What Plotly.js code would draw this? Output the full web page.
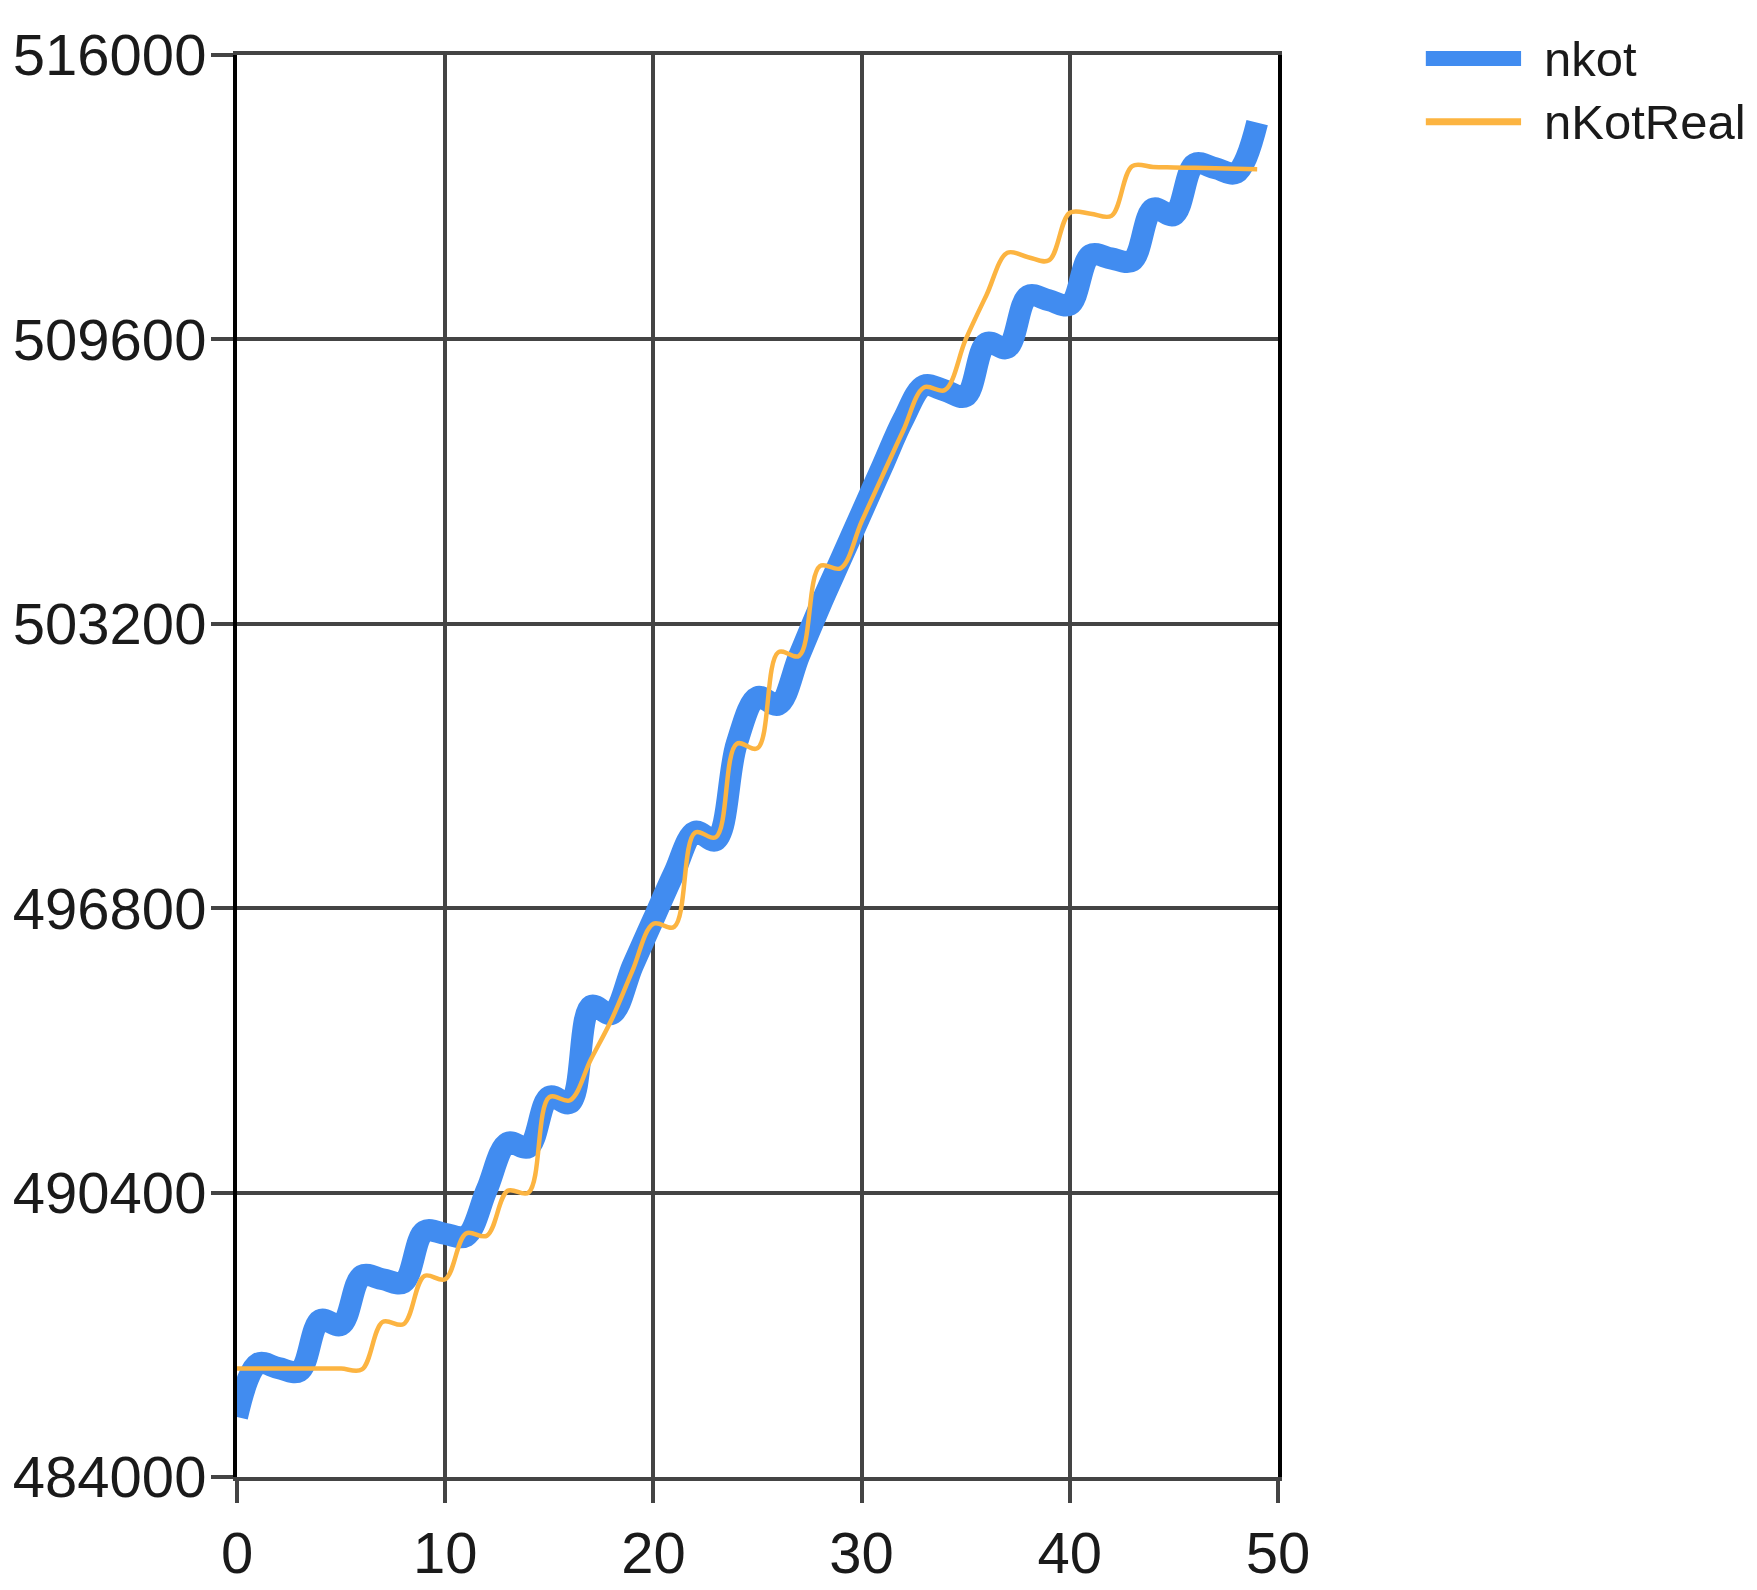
<!DOCTYPE html>
<html>
<head>
<meta charset="utf-8">
<script src="https://cdn.plot.ly/plotly-3.0.1.min.js"></script>
<style>
html, body { margin: 0; padding: 0; background: #ffffff; }
#chart { width: 1757px; height: 1590px; }
</style>
</head>
<body>
<div id="chart"></div>
<script>
// ---- data ----
const xValues = [0, 1, 2, 3, 4, 5, 6, 7, 8, 9,
                 10, 11, 12, 13, 14, 15, 16, 17, 18, 19,
                 20, 21, 22, 23, 24, 25, 26, 27, 28, 29,
                 30, 31, 32, 33, 34, 35, 36, 37, 38, 39,
                 40, 41, 42, 43, 44, 45, 46, 47, 48, 49];

const nkot = [485350, 486550, 486450, 486380, 487530, 487420, 488530, 488450, 488380, 489530,
              489470, 489420, 490470, 491520, 491420, 492560, 492420, 494600, 494420, 495500,
              496550, 497600, 498520, 498330, 500500, 501550, 501380, 502480, 503600, 504650,
              505700, 506750, 507800, 508560, 508450, 508320, 509520, 509410, 510580, 510480,
              510380, 511500, 511420, 511370, 512540, 512400, 513550, 513450, 513350, 514480];

const nKotReal = [486440, 486440, 486440, 486440, 486440, 486440, 486420, 487490, 487440, 488525,
                  488450, 489480, 489430, 490440, 490400, 492550, 492480, 493400, 494300, 495400,
                  496450, 496380, 498500, 498400, 500500, 500400, 502560, 502480, 504500, 504450,
                  505500, 506530, 507550, 508520, 508460, 509600, 510600, 511550, 511450, 511380,
                  512450, 512430, 512380, 513500, 513480, 513470, 513460, 513450, 513440, 513430];

const seriesNames = ['nkot', 'nKotReal'];
const seriesColors = ['#418CF0', '#FCB441'];
const seriesWidths = [22, 4.5];
const legendWidths = [15, 7];

const xTicks = [0, 10, 20, 30, 40, 50];
const yTicks = [484000, 490400, 496800, 503200, 509600, 516000];

// ---- chart ----
const seriesValues = [nkot, nKotReal];
const traces = seriesValues.map((vals, i) => ({
  type: 'scatter',
  mode: 'lines',
  name: seriesNames[i],
  x: xValues,
  y: vals,
  line: { color: seriesColors[i], width: seriesWidths[i], shape: 'spline', smoothing: 1 },
  hoverinfo: 'x+y+name'
}));

const font = 'Liberation Sans, Arial, sans-serif';
const gridCol = '#444444';

// manual legend (long line samples as in the original)
const legendRowsY = [0.9975, 0.953];
const shapes = seriesNames.map((n, i) => ({
  type: 'line', xref: 'paper', yref: 'paper',
  x0: 1.142, x1: 1.2335, y0: legendRowsY[i], y1: legendRowsY[i],
  line: { color: seriesColors[i], width: legendWidths[i] }
}));
const annotations = seriesNames.map((n, i) => ({
  xref: 'paper', yref: 'paper', x: 1.254, y: legendRowsY[i],
  xanchor: 'left', yanchor: 'middle', showarrow: false,
  text: n, font: { family: font, size: 49, color: '#1a1a1a' }
}));

const layout = {
  width: 1757,
  height: 1590,
  margin: { l: 237, r: 479, t: 55, b: 113, pad: 0 },
  paper_bgcolor: '#ffffff',
  plot_bgcolor: '#ffffff',
  showlegend: false,
  font: { family: font, color: '#1a1a1a' },
  xaxis: {
    range: [0, 50],
    tickmode: 'array',
    tickvals: xTicks,
    ticktext: xTicks.map(String),
    ticks: 'outside', ticklen: 22, tickwidth: 4, tickcolor: gridCol,
    showgrid: true, gridcolor: gridCol, gridwidth: 4,
    zeroline: false,
    showline: true, linecolor: gridCol, linewidth: 4, mirror: true,
    tickfont: { family: font, size: 58, color: '#1a1a1a' },
    fixedrange: true
  },
  yaxis: {
    range: [484000, 516000],
    tickmode: 'array',
    tickvals: yTicks,
    ticktext: yTicks.map(String),
    ticks: 'outside', ticklen: 22, tickwidth: 4, tickcolor: gridCol,
    ticklabelstandoff: -7,
    showgrid: true, gridcolor: gridCol, gridwidth: 4,
    zeroline: false,
    showline: true, linecolor: '#000000', linewidth: 4, mirror: true,
    tickfont: { family: font, size: 58, color: '#1a1a1a' },
    fixedrange: true
  },
  shapes: shapes,
  annotations: annotations
};

Plotly.newPlot('chart', traces, layout, { displayModeBar: false, staticPlot: true });
</script>
</body>
</html>
